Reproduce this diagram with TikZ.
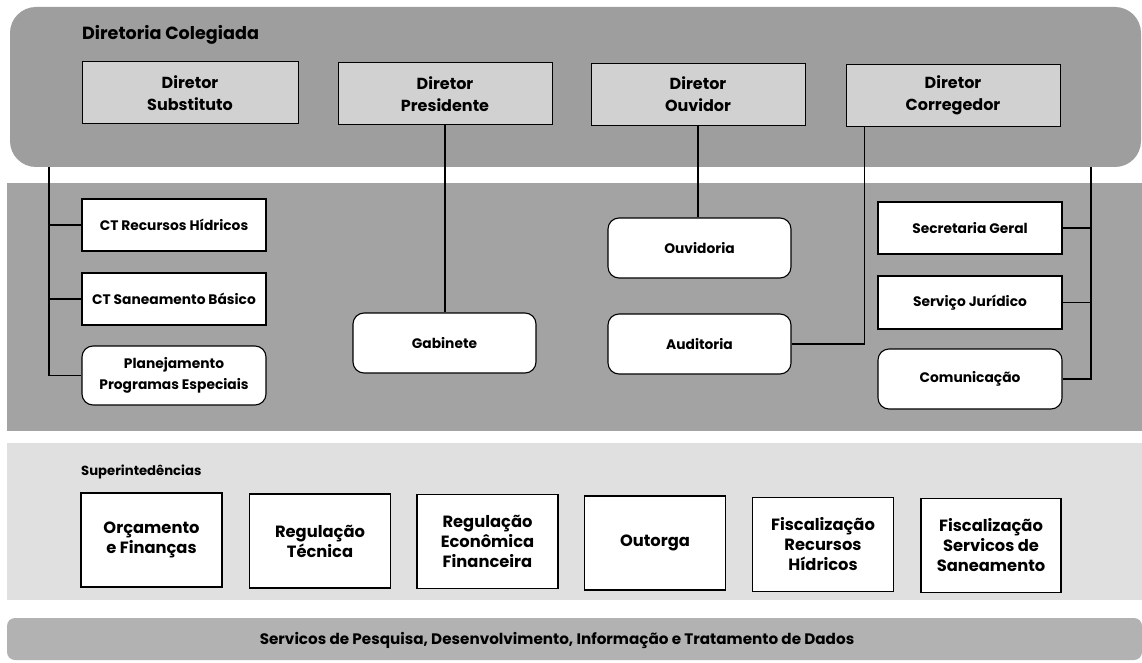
\documentclass[tikz,border=0pt]{standalone}
\usepackage{fontspec}
\setmainfont{Poppins}
\usetikzlibrary{calc}
\tikzset{
  dirbox/.style={draw=black, line width=1pt, fill=black!18, minimum width=214pt, minimum height=62pt, align=center, inner sep=0pt, font=\fontsize{16}{22}\selectfont\bfseries},
  unitbox/.style={draw=black, line width=1.1pt, fill=white, minimum width=184pt, align=center, inner sep=0pt, font=\fontsize{13.8}{21}\selectfont\bfseries},
  roundbox/.style={unitbox, rounded corners=11pt, minimum height=60pt},
  sqbox/.style={unitbox, minimum height=52pt},
  supbox/.style={draw=black, line width=1.1pt, fill=white, minimum width=141pt, minimum height=94pt, align=center, inner sep=0pt, font=\fontsize{16.3}{20}\selectfont\bfseries},
  conn/.style={draw=black, line width=1.2pt},
  title/.style={anchor=west, inner sep=0pt, font=\bfseries}
}
\begin{document}
\begin{tikzpicture}[x=1pt, y=-1pt]
\useasboundingbox (0,0) rectangle (1142,663);
\fill[white] (0,0) rectangle (1142,663);
% panels
\fill[black!38, rounded corners=26pt] (10,7) rectangle (1141,167);
\fill[black!36] (7,183) rectangle (1142,431);
\fill[black!12] (7,443) rectangle (1142,600);
\fill[black!30, rounded corners=8pt] (7,618) rectangle (1142,660);

% titles
\node[title, font=\fontsize{17.6}{20}\selectfont\bfseries] (dc) at (82,35) {Diretoria Colegiada};
\node[title, font=\fontsize{13.2}{15}\selectfont\bfseries] (sup) at (81,472) {Superintedências};

% directors
\node[dirbox, minimum width=216pt] (sub) at (190,93) {Diretor\\Substituto};
\node[dirbox] (pres) at (445,94) {Diretor\\Presidente};
\node[dirbox] (ouv) at (698,94.5) {Diretor\\Ouvidor};
\node[dirbox] (corr) at (953,95.5) {Diretor\\Corregedor};

% middle units
\node[sqbox] (ctrh) at (174,225) {CT Recursos Hídricos};
\node[sqbox] (ctsb) at (174,299) {CT Saneamento Básico};
\node[roundbox, minimum height=59pt] (plan) at (174,375.5) {Planejamento\\Programas Especiais};
\node[roundbox, minimum width=183pt] (gab) at (444.5,343) {Gabinete};
\node[roundbox, minimum width=183pt] (ouvid) at (699.5,248) {Ouvidoria};
\node[roundbox, minimum width=183pt] (aud) at (699.5,344) {Auditoria};
\node[sqbox] (sec) at (970,228) {Secretaria Geral};
\node[sqbox, minimum height=53pt] (jur) at (970,302.5) {Serviço Jurídico};
\node[roundbox] (com) at (970,379) {Comunicação};

% connectors
\coordinate (L) at (49,167);
\coordinate (R) at (1091,167);
\draw[conn] (L) |- (plan.west);
\draw[conn] (ctrh.west) -- (ctrh.west -| L);
\draw[conn] (ctsb.west) -- (ctsb.west -| L);
\draw[conn] (pres.south) -- (pres.south |- gab.north);
\draw[conn] (ouv.south) -- (ouv.south |- ouvid.north);
\draw[conn] (aud.east) -| ([xshift=19pt]corr.south west);
\draw[conn] (R) |- (com.east);
\draw[conn] (sec.east) -- (sec.east -| R);
\draw[conn] (jur.east) -- (jur.east -| R);

% superintendencias
\node[supbox] (orc) at (151.5,540) {Orçamento\\e Finanças};
\node[supbox] (regt) at (320,541) {Regulação\\Técnica};
\node[supbox] (rege) at (487.5,541.5) {Regulação\\Econômica\\Financeira};
\node[supbox] (out) at (655,543) {Outorga};
\node[supbox] (fisr) at (823,544.5) {Fiscalização\\Recursos\\Hídricos};
\node[supbox, minimum width=140pt] (fiss) at (991,545.5) {Fiscalização\\Servicos de\\Saneamento};

% bottom band
\node[font=\fontsize{15.2}{17}\selectfont\bfseries, inner sep=0pt] (srv) at (557,640) {Servicos de Pesquisa, Desenvolvimento, Informação e Tratamento de Dados};
\end{tikzpicture}
\end{document}
